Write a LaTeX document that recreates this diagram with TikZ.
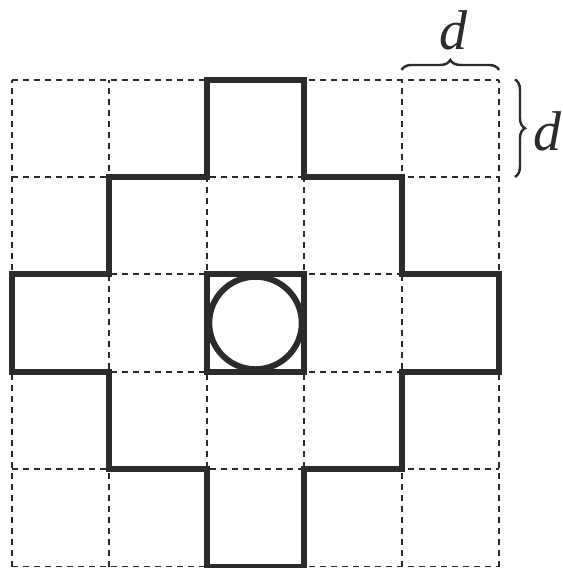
\documentclass[tikz,border=0pt]{standalone}
\usepackage{fontspec}
\setmainfont{Liberation Serif}
\usetikzlibrary{decorations.pathreplacing}
\definecolor{ink}{RGB}{43,43,43}
\tikzset{
  gridline/.style={ink, line width=2pt, dash pattern=on 6pt off 5pt},
  outline/.style={ink, line width=6pt, line join=miter},
  bracemark/.style={ink, line width=2.4pt, decorate, decoration={brace, amplitude=10pt}},
  dlabel/.style={ink, inner sep=0pt, anchor=base, font=\fontsize{56}{60}\selectfont\itshape}
}
\begin{document}
\begin{tikzpicture}[x=97.4pt, y=97.4pt, shift={(12pt,1.5pt)}]
\useasboundingbox (-0.1232,-0.0154) rectangle (5.657,5.8163);
% dashed grid
\foreach \i in {0,...,5} {
  \draw[gridline] (\i,0) -- (\i,5);
  \draw[gridline] (0,\i) -- (5,\i);
}
% cross outline
\draw[outline] (2,5) -- (3,5) -- (3,4) -- (4,4) -- (4,3) -- (5,3) -- (5,2) -- (4,2) -- (4,1) -- (3,1) -- (3,0) -- (2,0) -- (2,1) -- (1,1) -- (1,2) -- (0,2) -- (0,3) -- (1,3) -- (1,4) -- (2,4) -- cycle;
% centre square and circle
\draw[outline] (2,2) rectangle (3,3);
\node[draw=ink, line width=6pt, circle, minimum size=0.95*97.4pt, inner sep=0pt] (hole) at (2.5,2.5) {};
% braces
\coordinate (tl) at (4,5.098);
\coordinate (tr) at (5,5.098);
\draw[bracemark] (tl) -- (tr);
\coordinate (rt) at (5.164,5);
\coordinate (rb) at (5.164,4);
\draw[bracemark] (rt) -- (rb);
\node[dlabel] (dtop) at (4.538,5.303) {d};
\node[dlabel] (dright) at (5.503,4.276) {d};
\end{tikzpicture}
\end{document}
